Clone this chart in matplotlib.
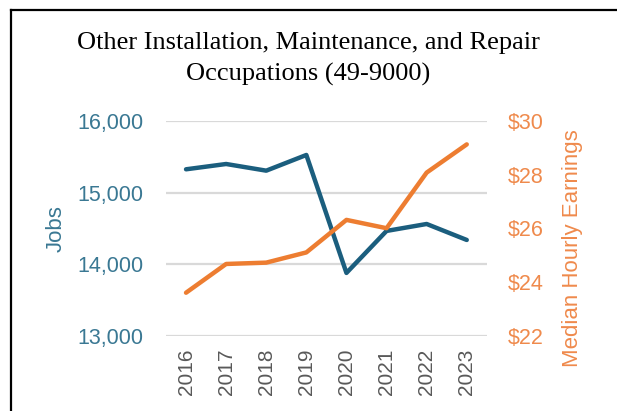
import matplotlib
matplotlib.use("Agg")
import matplotlib.pyplot as plt
from matplotlib.lines import Line2D
from matplotlib.ticker import FuncFormatter

years = ["2016", "2017", "2018", "2019", "2020", "2021", "2022", "2023"]
jobs = [15326, 15400, 15307, 15526, 13880, 14466, 14563, 14340]
earnings = [23.61, 24.68, 24.73, 25.11, 26.32, 26.01, 28.08, 29.13]

BLUE = "#1B5E7E"
BLUE_TXT = "#3A7893"
ORANGE = "#ED7D31"
ORANGE_TXT = "#EF8A4C"

fig = plt.figure(figsize=(6.17, 4.11), dpi=100)
ax = fig.add_axes([0.269, 0.1825, 0.52, 0.5231])
ax2 = ax.twinx()

x = range(len(years))
ax.plot(x, jobs, color=BLUE, lw=3.2, solid_capstyle="round", zorder=3)
ax2.plot(x, earnings, color=ORANGE, lw=3.2, solid_capstyle="round", zorder=3)

ax.set_xlim(-0.5, len(years) - 0.5)
ax.set_ylim(13000, 16000)
ax.set_yticks([13000, 14000, 15000, 16000])
ax.yaxis.set_major_formatter(FuncFormatter(lambda v, p: f"{int(v):,}"))
ax2.set_ylim(22, 30)
ax2.set_yticks([22, 24, 26, 28, 30])
ax2.yaxis.set_major_formatter(FuncFormatter(lambda v, p: f"${int(v)}"))

ax.grid(axis="y", color="#D9D9D9", lw=1.6)
ax.set_axisbelow(True)
for a in (ax, ax2):
    for s in a.spines.values():
        s.set_visible(False)
    a.tick_params(length=0)

font = "Liberation Sans"
ax.set_xticks(list(x))
ax.set_xticklabels(years, rotation=90, color="#595959", fontsize=15, family=font)
ax.tick_params(axis="x", pad=9)
ax.tick_params(axis="y", pad=16)
ax2.tick_params(axis="y", pad=15)
for t in ax.get_yticklabels():
    t.set_color(BLUE_TXT)
    t.set_fontsize(15.5)
    t.set_family(font)
for t in ax2.get_yticklabels():
    t.set_color(ORANGE_TXT)
    t.set_fontsize(15.5)
    t.set_family(font)

ax.set_ylabel("Jobs", color=BLUE_TXT, fontsize=16, family=font)
ax.yaxis.set_label_coords(-0.31, 0.5)
ax2.set_ylabel("Median Hourly Earnings", color=ORANGE_TXT, fontsize=16, family=font)
ax2.yaxis.set_label_coords(1.234, 0.41)

fig.text(0.5, 0.857, "Other Installation, Maintenance, and Repair\nOccupations (49-9000)",
         ha="center", va="center", fontsize=19, family="Liberation Serif",
         linespacing=1.5)

# frame lines around the chart box
fig.add_artist(Line2D([0.0178, 1.0], [0.9757, 0.9757], color="black", lw=1.6))
fig.add_artist(Line2D([0.0178, 0.0178], [0.0, 0.9757], color="black", lw=1.6))

fig.savefig("out.png", dpi=100)
